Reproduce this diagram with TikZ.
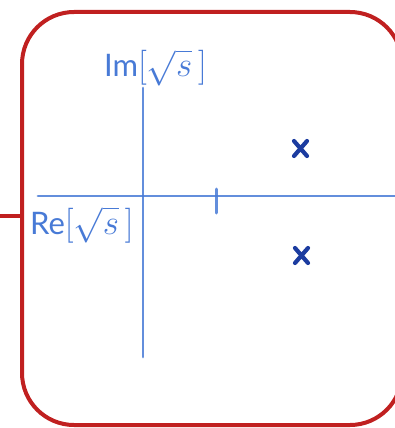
\RequirePackage{fix-cm}
\documentclass[tikz,border=0pt]{standalone}
\usepackage{fontspec}
\setsansfont{Lato}
\newcommand{\sqrtlbl}{{\fontsize{35}{35}\selectfont$[\sqrt{s}\,]$}}
\begin{document}
\begin{tikzpicture}[x=1pt,y=-1pt,
  frame/.style={draw=redc, line width=4pt, rounded corners=52pt},
  axis/.style={draw=bluec, line width=2.8pt, opacity=0.85, line cap=round},
  pole/.style={draw=darkb, line width=4.2pt, line cap=round},
  lbl/.style={text=bluec, font=\sffamily\fontsize{31}{31}\selectfont, inner sep=0pt}]
\definecolor{redc}{RGB}{192,32,32}
\definecolor{bluec}{RGB}{72,122,214}
\definecolor{darkb}{RGB}{28,60,160}
\useasboundingbox (0,0) rectangle (395,428);
\draw[frame] (22,12) rectangle (402,425);
\coordinate (stubL) at (0,216);
\coordinate (stubR) at (22,216);
\draw[redc, line width=4pt] (stubL) -- (stubR);
% axes
\coordinate (xl) at (38,196);
\coordinate (xr) at (397,196);
\coordinate (yt) at (143,88);
\coordinate (yb) at (143,357);
\draw[axis] (xl) -- (xr);
\draw[axis] (yt) -- (yb);
\coordinate (tt) at (216,189);
\coordinate (tb) at (216,213);
\draw[axis, line width=3pt] (tt) -- (tb);
% poles
\draw[pole] (294,141) -- (307,156) (307,141) -- (294,156);
\draw[pole] (295,248) -- (308,263) (308,248) -- (295,263);
% labels
\node[lbl, anchor=base west] (im) at (104,77) {Im\sqrtlbl};
\node[lbl, anchor=base west] (re) at (30,234) {Re\sqrtlbl};
\end{tikzpicture}
\end{document}
